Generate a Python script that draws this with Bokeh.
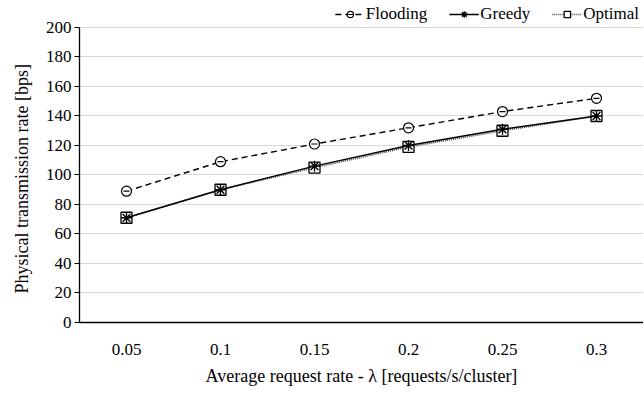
from bokeh.plotting import figure
from bokeh.models import FactorRange, Range1d, Legend, LegendItem, FixedTicker, Title
from bokeh.embed import file_html
from bokeh.resources import INLINE

categories = ["0.05", "0.1", "0.15", "0.2", "0.25", "0.3"]
flooding = [89, 109, 121, 132, 143, 152]
greedy = [71, 90, 106, 120, 131, 140]
optimal = [71, 90, 105, 119, 130, 140]
y_ticks = [0, 20, 40, 60, 80, 100, 120, 140, 160, 180, 200]

FONT = "Liberation Serif"

p = figure(width=643, height=392, x_range=FactorRange(*categories, range_padding=0),
           y_range=Range1d(0, 218.3), output_backend="svg", toolbar_location=None,
           min_border_left=79, min_border_right=0, min_border_bottom=70, min_border_top=0)
p.outline_line_color = None
p.background_fill_color = "white"
p.border_fill_color = "white"

p.xgrid.grid_line_color = None
p.ygrid.grid_line_color = "#d9d9d9"
p.ygrid.grid_line_width = 1
p.yaxis.ticker = FixedTicker(ticks=y_ticks)
p.yaxis.bounds = (0, 200)

for ax in (p.xaxis, p.yaxis):
    ax.axis_line_color = "black"
    ax.axis_line_width = 1.3
    ax.major_label_text_font = FONT
    ax.major_label_text_font_size = "17px"
    ax.major_label_text_color = "black"
    ax.axis_label_text_font = FONT
    ax.axis_label_text_font_style = "normal"
    ax.axis_label_text_color = "black"
    ax.minor_tick_line_color = None

p.xaxis.major_tick_line_color = None
p.xaxis.major_label_standoff = 15
p.xaxis.axis_label = "Average request rate - λ [requests/s/cluster]"
p.xaxis.axis_label_text_font_size = "18px"
p.xaxis.axis_label_standoff = 8
p.yaxis.major_tick_in = 0
p.yaxis.major_tick_out = 5
p.yaxis.major_tick_line_color = "black"
p.yaxis.major_label_standoff = 3

# y-axis title, centred on the 0-200 span of the axis
ytitle = Title(text="Physical transmission rate [bps]", align="left", offset=29,
               vertical_align="middle", standoff=20, text_font=FONT,
               text_font_size="18px", text_font_style="normal", text_color="black")
p.add_layout(ytitle, "left")

lf = p.line(categories, flooding, line_color="black", line_width=1.4, line_dash="6 4")
cf = p.scatter(categories, flooding, marker="circle", size=10, line_color="black",
               fill_color="white", line_width=1.2)
df = p.scatter(categories, flooding, marker="dash", size=6, line_color="black", line_width=1.2)

lo = p.line(categories, optimal, line_color="#444444", line_width=1.6, line_dash="1 1")
so = p.scatter(categories, optimal, marker="square", size=11, line_color="black",
               fill_color="white", line_width=1.3)

lg = p.line(categories, greedy, line_color="black", line_width=1.4)
sg = p.scatter(categories, greedy, marker="asterisk", size=11, line_color="black", line_width=1.4)

legend = Legend(items=[
    LegendItem(label="Flooding", renderers=[lf, cf, df]),
    LegendItem(label="Greedy", renderers=[lg, sg]),
    LegendItem(label="Optimal", renderers=[lo, so]),
], orientation="horizontal", location="top_right")
legend.label_text_font = FONT
legend.label_text_font_size = "17px"
legend.label_text_color = "black"
legend.border_line_color = None
legend.background_fill_alpha = 0
legend.glyph_width = 30
legend.glyph_height = 16
legend.label_standoff = 1
legend.spacing = 22
legend.padding = 2
legend.margin = 4
p.add_layout(legend, "center")

open("out.html", "w").write(file_html(p, INLINE))
